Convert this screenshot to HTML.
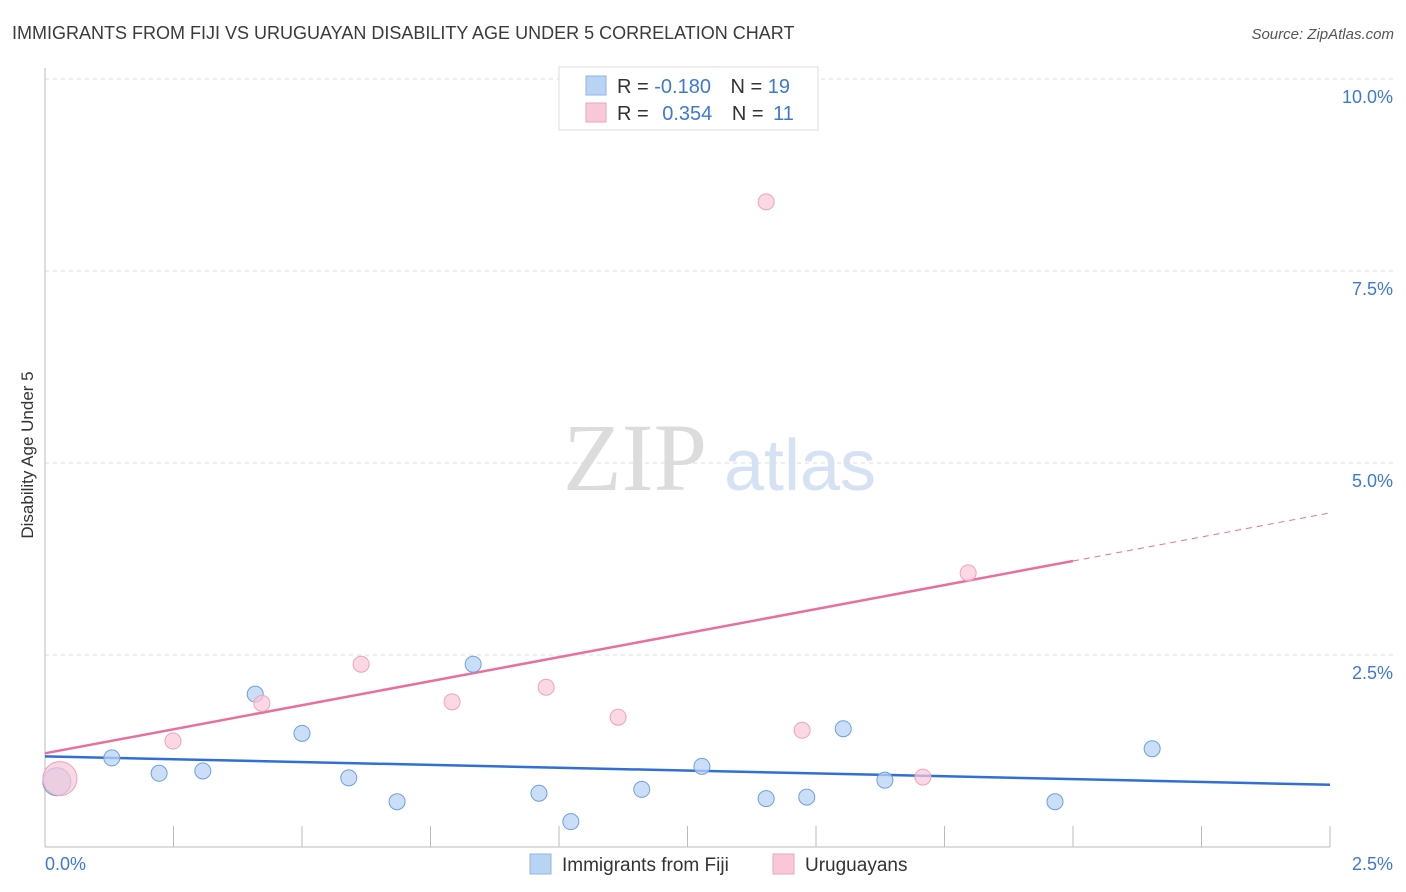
<!DOCTYPE html>
<html><head><meta charset="utf-8"><style>
body{margin:0;background:#fff;font-family:"Liberation Sans",sans-serif;}
svg{display:block}
</style></head><body>
<svg id="chart" width="1406" height="892" xmlns="http://www.w3.org/2000/svg" font-family="Liberation Sans, sans-serif">
<text x="12" y="39" font-size="18" fill="#3a3a3a">IMMIGRANTS FROM FIJI VS URUGUAYAN DISABILITY AGE UNDER 5 CORRELATION CHART</text>
<text x="1394" y="39" font-size="15" fill="#555" text-anchor="end" font-style="italic">Source: ZipAtlas.com</text>
<text transform="translate(33,455) rotate(-90)" font-size="17" fill="#333" text-anchor="middle">Disability Age Under 5</text>
<g>
<text x="635" y="490" font-size="96" fill="#dcdcdc" font-family="Liberation Serif, serif" text-anchor="middle">ZIP</text>
<text x="800" y="490" font-size="72" fill="#d4e2f4" text-anchor="middle">atlas</text>
</g>
<g id="grid"></g><g id="axes"></g><g id="lines"></g><g id="points"></g>
<g>
<rect x="559" y="67" width="259" height="63" fill="#fff" stroke="#ddd"/>
<rect x="586" y="76" width="20" height="19" fill="#b9d3f5" stroke="#8fb4e6"/>
<text x="617" y="93" font-size="20" fill="#333">R = <tspan fill="#3d78d8">-0.180</tspan>  <tspan dx="14">N = </tspan><tspan fill="#3d78d8">19</tspan></text>
<rect x="586" y="103" width="20" height="19" fill="#f9c8d7" stroke="#eea3bb"/>
<text x="617" y="120" font-size="20" fill="#333">R = <tspan fill="#3d78d8" dx="8">0.354</tspan>  <tspan dx="14">N = </tspan><tspan fill="#3d78d8" dx="4">11</tspan></text>
</g>
<g>
<rect x="530" y="854" width="21" height="20" fill="#b9d3f5" stroke="#8fb4e6"/>
<text x="562" y="871" font-size="19" fill="#333">Immigrants from Fiji</text>
<rect x="773" y="854" width="21" height="20" fill="#f9c8d7" stroke="#eea3bb"/>
<text x="805" y="871" font-size="19" fill="#333">Uruguayans</text>
</g>
</svg>
<script>
const fijiX=[0.023,0.130,0.222,0.307,0.409,0.500,0.591,0.685,0.833,0.961,1.023,1.161,1.278,1.403,1.482,1.553,1.634,1.965,2.154];
const fijiY=[0.85,1.16,0.96,0.99,1.99,1.48,0.90,0.59,2.38,0.70,0.33,0.75,1.05,0.63,0.65,1.54,0.87,0.59,1.28];
const fijiR=[14,8,8,8,8,8,8,8,8,8,8,8,8,8,8,8,8,8,8];
const uruX=[0.029,0.249,0.422,0.615,0.792,0.975,1.115,1.403,1.473,1.708,1.796];
const uruY=[0.89,1.38,1.87,2.38,1.89,2.08,1.69,8.40,1.52,0.91,3.57];
const uruR=[17,8,8,8,8,8,8,8,8,8,8];
const fijiTrend=[1.18,0.81];
const uruTrend=[1.22,4.35];
const yTicks=[2.5,5.0,7.5,10.0];
const xTickLabels=["0.0%","2.5%"];
const NS="http://www.w3.org/2000/svg";
const X=v=>45+v/2.5*1285, Y=v=>847-v*76.8;
function mk(t,a,p){const e=document.createElementNS(NS,t);for(const k in a)e.setAttribute(k,a[k]);p.appendChild(e);return e;}
const grid=document.getElementById('grid'),axes=document.getElementById('axes'),lines=document.getElementById('lines'),pts=document.getElementById('points');
yTicks.forEach(v=>{
 const l=mk('line',{x1:45,x2:1394,y1:Y(v),y2:Y(v),stroke:'#ddd','stroke-dasharray':'4,4'},grid);
 
 
 const t=mk('text',{x:1393,y:Y(v)+24,'font-size':18,fill:'#3d78d8','text-anchor':'end'},axes);
 
 
 t.textContent=v.toFixed(1)+'%';
});
const ax=mk('line',{x1:45,x2:45,y1:68,y2:847,stroke:'#bbb'},axes);


const bx=mk('line',{x1:45,x2:1330,y1:847,y2:847,stroke:'#bbb'},axes);


for(let i=0;i<=10;i++){const x=X(i*0.25);const tk=mk('line',{x1:x,x2:x,y1:826,y2:847,stroke:'#bbb'},axes);
 
 }
xTickLabels.forEach((s,i)=>{const t=mk('text',{x:i?1393:45,y:870,'font-size':18,fill:'#3d78d8','text-anchor':i?'end':'start'},axes);
 
 
 t.textContent=s;});
const bl=mk('line',{x1:X(0),y1:Y(fijiTrend[0]),x2:X(2.5),y2:Y(fijiTrend[1]),stroke:'#2f6fd6','stroke-width':2.5},lines);


const uAt=x=>uruTrend[0]+(uruTrend[1]-uruTrend[0])*x/2.5;
const pl=mk('line',{x1:X(0),y1:Y(uAt(0)),x2:X(2.0),y2:Y(uAt(2.0)),stroke:'#e8709a','stroke-width':2.5},lines);


const pd=mk('line',{x1:X(2.0),y1:Y(uAt(2.0)),x2:X(2.5),y2:Y(uAt(2.5)),stroke:'#e8709a','stroke-width':1,'stroke-dasharray':'6,5'},lines);


fijiX.forEach((v,i)=>{const c=mk('circle',{cx:X(v),cy:Y(fijiY[i]),r:fijiR[i],fill:'#b9d3f5','fill-opacity':0.75,stroke:'#6f9fe0','stroke-width':1},pts);
 
 });
uruX.forEach((v,i)=>{const c=mk('circle',{cx:X(v),cy:Y(uruY[i]),r:uruR[i],fill:'#f9c8d7','fill-opacity':0.7,stroke:'#eea3bb','stroke-width':1},pts);
 
 });
</script>
</body></html>
